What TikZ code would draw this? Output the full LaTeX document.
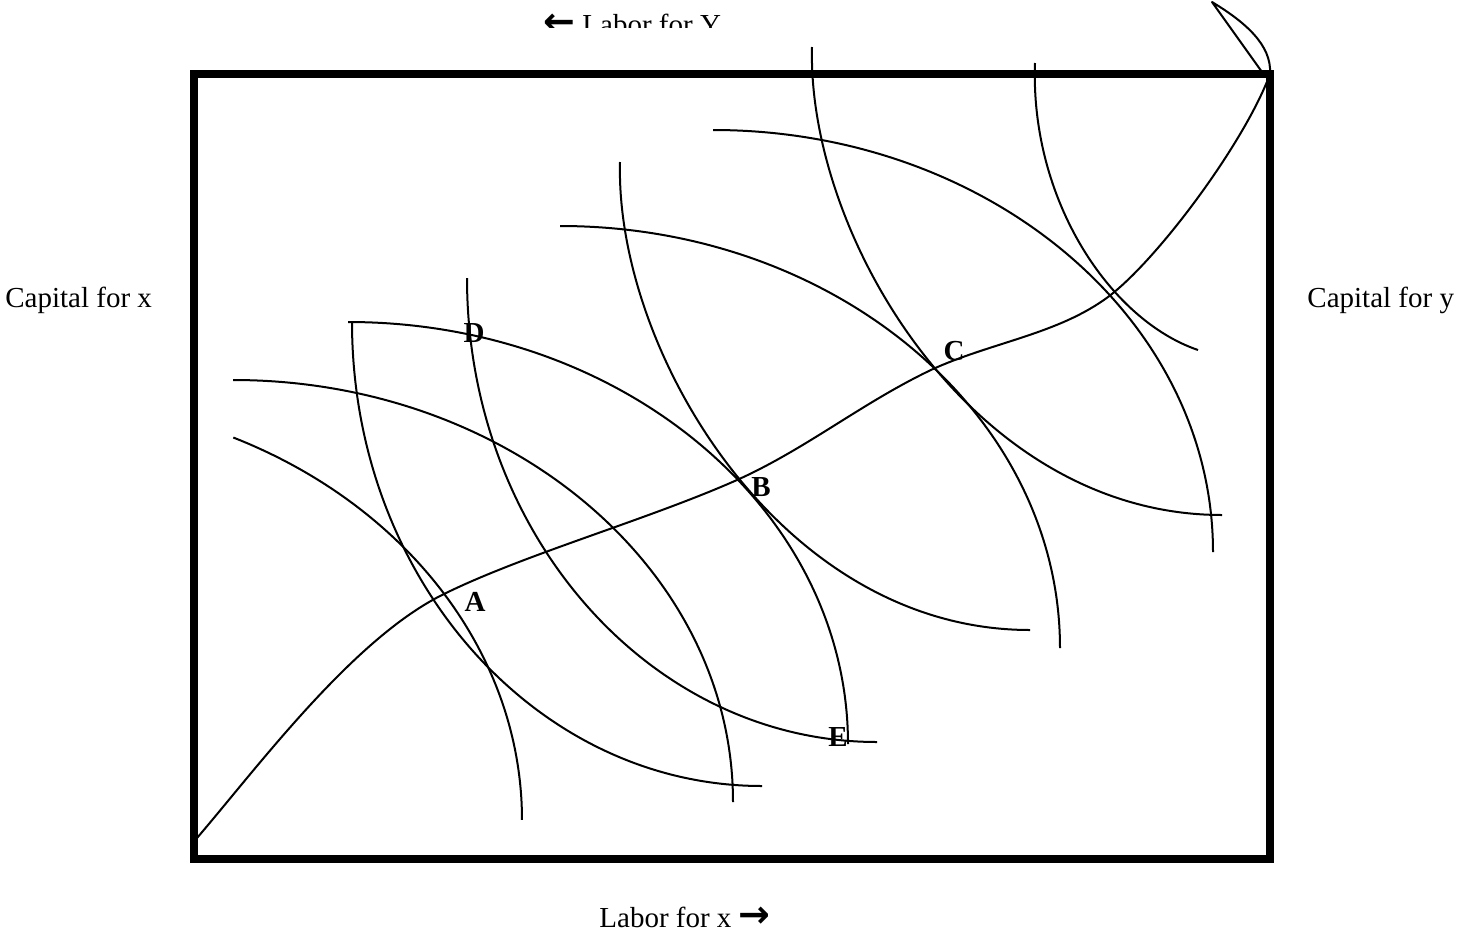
\documentclass[tikz,border=0pt]{standalone}
\usepackage{fontspec}
\setmainfont{Liberation Serif}
\newfontfamily\symfont{DejaVu Sans}
\begin{document}
\begin{tikzpicture}[x=0.5pt,y=-0.5pt,
  curveline/.style={line width=1pt, line join=round},
  boxline/.style={line width=4pt},
  txt/.style={inner sep=0pt, font=\fontsize{14.5}{17}\selectfont},
  pointlbl/.style={inner sep=0pt, font=\fontsize{14.5}{17}\selectfont\bfseries}]
\useasboundingbox (0,0) rectangle (1462,944);
% clipped top label
\begin{scope}
  \clip (0,0) rectangle (1462,27);
  \node[txt, anchor=base west] (laby) at (543,34) {{\symfont\bfseries\fontsize{19}{19}\selectfont ←} Labor for Y};
\end{scope}
% box
\draw[boxline] (194,74) rectangle (1270,859);
% family A (horizontal start, vertical end)
\draw[curveline] (233,380) arc[start angle=270, end angle=360, x radius=500, y radius=422];
\draw[curveline] (348,322) arc[start angle=270, end angle=360, x radius=500, y radius=422];
\draw[curveline] (560,226) arc[start angle=270, end angle=360, x radius=500, y radius=422];
\draw[curveline] (713,130) arc[start angle=270, end angle=360, x radius=500, y radius=422];
\draw[curveline] (233.3,437.5) arc[start angle=295, end angle=360, x radius=500, y radius=422];
% family B (vertical start, horizontal end)
\draw[curveline] (352,322) arc[start angle=180, end angle=90, x radius=410, y radius=464];
\draw[curveline] (467,278) arc[start angle=180, end angle=90, x radius=410, y radius=464];
\draw[curveline] (620,162) .. controls (615,350) and (780,630) .. (1030,630);
\draw[curveline] (812,47) .. controls (807,235) and (972,515) .. (1222,515);
\draw[curveline] (1035,63) .. controls (1030,200) and (1110,320) .. (1198,350);
% contract curve
\coordinate (start) at (197,838);
\coordinate (pA) at (442,595);
\coordinate (pB) at (737,480);
\coordinate (pC) at (933,369);
\coordinate (pK) at (1108,297);
\coordinate (corner) at (1270,74);
\draw[curveline] (start) .. controls (257,768) and (352,640) .. (pA)
  .. controls (522,555) and (647,520) .. (pB)
  .. controls (807,448.5) and (863,402) .. (pC)
  .. controls (993,342) and (1058,334) .. (pK)
  .. controls (1158,259.5) and (1245,142) .. (corner);
\coordinate (tip) at (1212,2);
\coordinate (back) at (1262,72);
\draw[curveline] (corner) .. controls (1272,45) and (1245,22) .. (tip) -- (back);
% point labels
\node[pointlbl] (A) at (475,602) {A};
\node[pointlbl] (B) at (761,487) {B};
\node[pointlbl] (C) at (954,351) {C};
\node[pointlbl] (D) at (474,333) {D};
\node[pointlbl] (E) at (838,737) {E};
% axis labels
\node[txt, anchor=base west] (capx) at (5,307) {Capital for x};
\node[txt, anchor=base west] (capy) at (1307,307) {Capital for y};
\node[txt, anchor=base west] (labx) at (599,927) {Labor for x {\symfont\bfseries\fontsize{19}{19}\selectfont →}};
\end{tikzpicture}
\end{document}
